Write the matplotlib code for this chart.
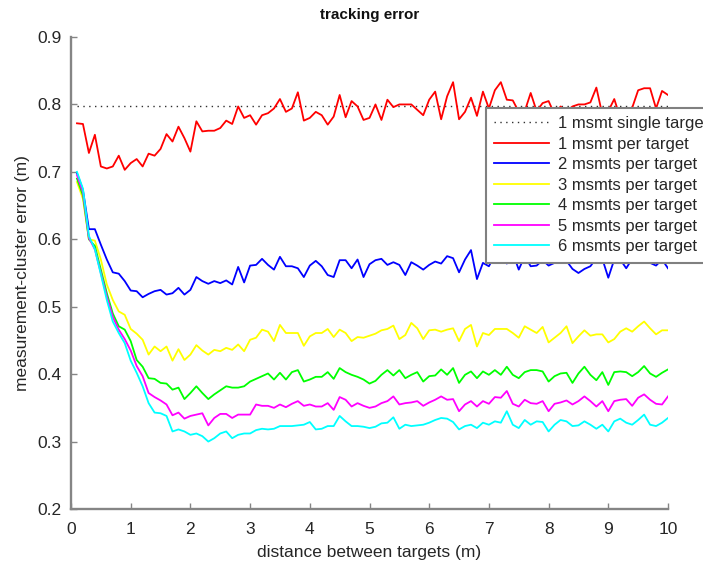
import matplotlib
matplotlib.use("Agg")
import matplotlib.pyplot as plt
import numpy as np

plt.rcParams['font.family'] = ['Liberation Sans', 'DejaVu Sans']

# distance between targets (m)
distance = [round(0.1 * i, 1) for i in range(1, 101)]

single_target_error = 0.798

err_1 = [0.772, 0.771, 0.728, 0.755, 0.708, 0.705, 0.708, 0.724, 0.703, 0.713,
         0.719, 0.708, 0.727, 0.724, 0.734, 0.756, 0.745, 0.767, 0.750, 0.730,
         0.775, 0.760, 0.761, 0.761, 0.765, 0.776, 0.771, 0.797, 0.780, 0.784,
         0.770, 0.784, 0.787, 0.794, 0.808, 0.789, 0.794, 0.818, 0.776, 0.780,
         0.789, 0.784, 0.770, 0.782, 0.814, 0.781, 0.805, 0.797, 0.777, 0.780,
         0.800, 0.777, 0.807, 0.796, 0.800, 0.800, 0.800, 0.792, 0.784, 0.807,
         0.819, 0.778, 0.812, 0.833, 0.778, 0.789, 0.810, 0.783, 0.819, 0.794,
         0.821, 0.833, 0.807, 0.806, 0.789, 0.790, 0.817, 0.790, 0.802, 0.805,
         0.785, 0.797, 0.790, 0.797, 0.800, 0.800, 0.803, 0.825, 0.785, 0.790,
         0.808, 0.780, 0.790, 0.795, 0.821, 0.824, 0.824, 0.794, 0.820, 0.814]

err_2 = [0.698, 0.673, 0.615, 0.615, 0.592, 0.570, 0.551, 0.549, 0.538, 0.524,
         0.523, 0.514, 0.519, 0.523, 0.525, 0.518, 0.520, 0.528, 0.518, 0.525,
         0.544, 0.538, 0.534, 0.538, 0.535, 0.539, 0.533, 0.559, 0.536, 0.561,
         0.562, 0.571, 0.562, 0.555, 0.574, 0.560, 0.560, 0.557, 0.544, 0.561,
         0.568, 0.560, 0.547, 0.544, 0.569, 0.569, 0.557, 0.570, 0.544, 0.563,
         0.569, 0.571, 0.562, 0.566, 0.562, 0.547, 0.566, 0.561, 0.555, 0.562,
         0.567, 0.564, 0.575, 0.572, 0.551, 0.570, 0.584, 0.541, 0.565, 0.560,
         0.577, 0.585, 0.564, 0.580, 0.555, 0.575, 0.560, 0.561, 0.569, 0.561,
         0.565, 0.569, 0.568, 0.556, 0.550, 0.556, 0.560, 0.572, 0.571, 0.543,
         0.570, 0.570, 0.557, 0.571, 0.578, 0.580, 0.565, 0.561, 0.570, 0.557]

err_3 = [0.685, 0.660, 0.600, 0.598, 0.570, 0.533, 0.510, 0.493, 0.488, 0.467,
         0.460, 0.451, 0.429, 0.441, 0.434, 0.441, 0.420, 0.437, 0.421, 0.429,
         0.443, 0.435, 0.429, 0.436, 0.434, 0.439, 0.436, 0.444, 0.434, 0.451,
         0.454, 0.466, 0.463, 0.449, 0.473, 0.461, 0.461, 0.461, 0.442, 0.456,
         0.461, 0.461, 0.467, 0.455, 0.466, 0.461, 0.449, 0.455, 0.454, 0.457,
         0.460, 0.465, 0.467, 0.472, 0.452, 0.458, 0.476, 0.468, 0.452, 0.465,
         0.466, 0.463, 0.466, 0.468, 0.449, 0.467, 0.473, 0.441, 0.461, 0.458,
         0.467, 0.467, 0.467, 0.461, 0.454, 0.471, 0.466, 0.461, 0.470, 0.447,
         0.454, 0.461, 0.471, 0.446, 0.456, 0.465, 0.457, 0.459, 0.459, 0.447,
         0.452, 0.463, 0.468, 0.463, 0.471, 0.478, 0.468, 0.459, 0.465, 0.465]

err_4 = [0.690, 0.665, 0.600, 0.590, 0.555, 0.520, 0.490, 0.471, 0.466, 0.449,
         0.421, 0.411, 0.394, 0.393, 0.387, 0.386, 0.377, 0.380, 0.363, 0.372,
         0.382, 0.372, 0.363, 0.370, 0.376, 0.382, 0.380, 0.380, 0.382, 0.389,
         0.393, 0.397, 0.401, 0.392, 0.402, 0.392, 0.403, 0.406, 0.389, 0.392,
         0.396, 0.396, 0.403, 0.393, 0.409, 0.403, 0.399, 0.396, 0.392, 0.386,
         0.390, 0.399, 0.406, 0.398, 0.406, 0.394, 0.399, 0.403, 0.389, 0.397,
         0.398, 0.407, 0.399, 0.409, 0.387, 0.399, 0.404, 0.394, 0.404, 0.399,
         0.406, 0.399, 0.411, 0.399, 0.394, 0.403, 0.406, 0.406, 0.404, 0.389,
         0.397, 0.401, 0.402, 0.387, 0.401, 0.411, 0.399, 0.391, 0.403, 0.384,
         0.403, 0.404, 0.403, 0.397, 0.403, 0.412, 0.401, 0.396, 0.402, 0.407]

err_5 = [0.695, 0.670, 0.602, 0.585, 0.550, 0.515, 0.485, 0.466, 0.452, 0.435,
         0.412, 0.397, 0.372, 0.366, 0.361, 0.355, 0.339, 0.343, 0.334, 0.338,
         0.340, 0.342, 0.324, 0.335, 0.341, 0.341, 0.335, 0.340, 0.340, 0.340,
         0.355, 0.353, 0.353, 0.350, 0.355, 0.351, 0.356, 0.360, 0.353, 0.355,
         0.352, 0.352, 0.357, 0.347, 0.366, 0.362, 0.352, 0.357, 0.353, 0.350,
         0.352, 0.357, 0.360, 0.367, 0.355, 0.357, 0.358, 0.360, 0.353, 0.358,
         0.362, 0.367, 0.362, 0.363, 0.345, 0.355, 0.360, 0.352, 0.360, 0.356,
         0.366, 0.365, 0.375, 0.356, 0.352, 0.362, 0.357, 0.356, 0.360, 0.345,
         0.356, 0.358, 0.361, 0.355, 0.360, 0.367, 0.360, 0.352, 0.360, 0.345,
         0.360, 0.362, 0.363, 0.353, 0.365, 0.370, 0.362, 0.356, 0.355, 0.367]

err_6 = [0.700, 0.675, 0.605, 0.585, 0.548, 0.510, 0.478, 0.461, 0.446, 0.420,
         0.402, 0.382, 0.357, 0.343, 0.342, 0.338, 0.315, 0.318, 0.315, 0.310,
         0.312, 0.308, 0.300, 0.305, 0.312, 0.315, 0.305, 0.310, 0.312, 0.312,
         0.317, 0.319, 0.318, 0.319, 0.323, 0.323, 0.323, 0.324, 0.325, 0.329,
         0.318, 0.319, 0.323, 0.323, 0.338, 0.330, 0.323, 0.323, 0.322, 0.320,
         0.322, 0.327, 0.328, 0.336, 0.319, 0.325, 0.323, 0.324, 0.325, 0.328,
         0.332, 0.335, 0.334, 0.329, 0.318, 0.323, 0.325, 0.320, 0.328, 0.325,
         0.330, 0.328, 0.345, 0.325, 0.320, 0.332, 0.325, 0.330, 0.329, 0.315,
         0.325, 0.332, 0.330, 0.323, 0.324, 0.330, 0.325, 0.319, 0.325, 0.315,
         0.330, 0.334, 0.328, 0.325, 0.332, 0.340, 0.325, 0.323, 0.328, 0.335]

labels = ['1 msmt single target', '1 msmt per target', '2 msmts per target',
          '3 msmts per target', '4 msmts per target', '5 msmts per target',
          '6 msmts per target']
series = [err_1, err_2, err_3, err_4, err_5, err_6]
colors = ['#ff0000', '#0000ff', '#ffff00', '#00ff00', '#ff00ff', '#00ffff']

x_ticks = list(range(0, 11))
y_ticks = [0.2, 0.3, 0.4, 0.5, 0.6, 0.7, 0.8, 0.9]

fig = plt.figure(figsize=(7.03, 5.64), dpi=100)
ax = fig.add_axes([71 / 703, 1 - 509 / 564, (668 - 71) / 703, (509 - 37) / 564])

ax.plot([distance[0], distance[-1]], [single_target_error, single_target_error],
        color='#303030', linewidth=1.0, dashes=(1, 3.2), label=labels[0])
for s, c, lab in zip(series, colors, labels[1:]):
    ax.plot(distance, s, color=c, linewidth=1.3, label=lab)

ax.set_xlim(0, 10)
ax.set_ylim(0.2, 0.9)
ax.set_xticks(x_ticks)
ax.set_xticklabels([str(v) for v in x_ticks])
ax.set_yticks(y_ticks)
ax.set_yticklabels([f'{v:.1f}' for v in y_ticks])

for side in ['top', 'right']:
    ax.spines[side].set_visible(False)
for side in ['left', 'bottom']:
    ax.spines[side].set_color('#858585')
    ax.spines[side].set_linewidth(1.7)

ax.tick_params(axis='both', direction='in', length=4, width=1.0, color='#858585',
               labelsize=12.5, labelcolor='#262626')
ax.tick_params(axis='y', pad=7)
ax.tick_params(axis='x', pad=9)

ax.set_title('tracking error', fontsize=11, fontweight='bold', pad=13, color='#111111')
ax.set_xlabel('distance between targets (m)', fontsize=12.5, color='#262626', labelpad=6)
ax.set_ylabel('measurement-cluster error (m)', fontsize=12.5, color='#262626', labelpad=5)

leg = ax.legend(loc='upper left', bbox_to_anchor=(486 / 703, 1 - 108 / 564),
                bbox_transform=fig.transFigure, borderaxespad=0, fontsize=12,
                handlelength=3.3, handletextpad=0.5, labelspacing=0.33,
                borderpad=0.5, fancybox=False, framealpha=1, edgecolor='#808080')
leg.get_frame().set_linewidth(1.5)
for t in leg.get_texts():
    t.set_color('#262626')

fig.savefig('out.png', dpi=100)
